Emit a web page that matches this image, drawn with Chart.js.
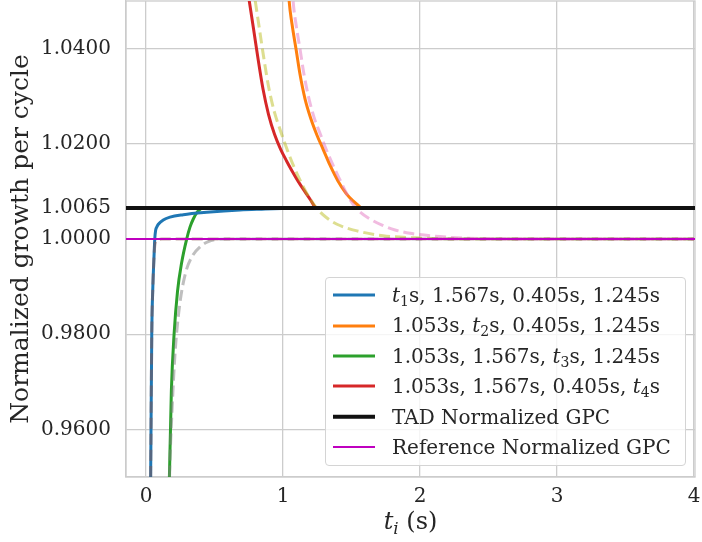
<!DOCTYPE html>
<html>
<head>
<meta charset="utf-8">
<script src="https://cdn.jsdelivr.net/npm/chart.js@4.4.1/dist/chart.umd.min.js"></script>
<style>
  html, body { margin: 0; padding: 0; background: #fff; }
  #wrap { position: relative; width: 702px; height: 542px; font-family: "DejaVu Serif", serif; color: #262626; }
  #gpc { display: block; }
  #legend { position: absolute; left: 325px; top: 277px; width: 361px; height: 189px; box-sizing: border-box;
            border: 1px solid #d4d4d4; border-radius: 4px; background: rgba(255,255,255,0.8); padding-top: 2px; }
  .row { position: relative; height: 30.4px; line-height: 30.4px; font-size: 20px; white-space: nowrap; }
  .swatch { position: absolute; left: 7px; width: 42px; top: 50%; transform: translateY(-50%); }
  .label { position: absolute; left: 66px; top: 0; }
  sub { font-size: 0.7em; line-height: 0; vertical-align: -0.3em; }
  #xtitle { position: absolute; left: 126px; width: 569px; top: 506px; text-align: center; font-size: 24px; line-height: 30px; }
</style>
</head>
<body>
<div id="wrap">
  <canvas id="gpc" width="702" height="542"></canvas>
  <div id="legend"></div>
  <div id="xtitle"><i>t</i><sub><i>i</i></sub> (s)</div>
</div>
<script>
(function () {
    "use strict";

    // axis limits and ticks
    var xMin = -0.146, xMax = 4.007;
    var yMin = 0.95, yMax = 1.05;
    var xTicks = [0, 1, 2, 3, 4];
    var yTicks = [0.96, 0.98, 1.0, 1.0065, 1.02, 1.04];

    var tadGpc = 1.0065;
    var refGpc = 1.0;

    // sweep of t1 (others fixed)
    var t1Times = [0.030, 0.034, 0.042, 0.050, 0.058, 0.064, 0.070, 0.080, 0.090, 0.126, 0.175, 0.272, 0.443, 0.686, 0.870, 1.053];
    var t1Gpc   = [0.9400, 0.9505, 0.9800, 0.9900, 0.9960, 1.0000, 1.0018, 1.0026, 1.0031, 1.0040, 1.0046, 1.0051, 1.0056, 1.0061, 1.0063, 1.0065];
    var t1RefTimes = [0.030, 0.034, 0.042, 0.050, 0.058, 0.066, 0.080, 0.115, 0.200, 0.500, 1.000, 2.000, 3.000, 4.000];
    var t1RefGpc   = [0.9400, 0.9505, 0.9800, 0.9900, 0.9960, 0.9990, 0.9997, 1.0000, 1.0000, 1.0000, 1.0000, 1.0000, 1.0000, 1.0000];

    // sweep of t2
    var t2Times = [1.026, 1.044, 1.066, 1.095, 1.124, 1.161, 1.204, 1.248, 1.292, 1.343, 1.401, 1.460, 1.511, 1.562, 1.567];
    var t2Gpc   = [1.0600, 1.0503, 1.0451, 1.0399, 1.0346, 1.0294, 1.0252, 1.0218, 1.0189, 1.0155, 1.0122, 1.0096, 1.0080, 1.0067, 1.0065];
    var t2RefTimes = [1.055, 1.073, 1.095, 1.124, 1.153, 1.190, 1.226, 1.270, 1.314, 1.365, 1.416, 1.467, 1.511, 1.562, 1.635, 1.723, 1.818, 1.927, 2.146, 2.438, 2.876, 4.000];
    var t2RefGpc   = [1.0600, 1.0503, 1.0451, 1.0399, 1.0346, 1.0294, 1.0256, 1.0222, 1.0189, 1.0155, 1.0124, 1.0094, 1.0073, 1.0057, 1.0042, 1.0029, 1.0019, 1.0012, 1.0005, 1.0001, 1.0000, 1.0000];

    // sweep of t3
    var t3Times = [0.165, 0.171, 0.185, 0.205, 0.230, 0.260, 0.297, 0.321, 0.345, 0.375, 0.405];
    var t3Gpc   = [0.9400, 0.9503, 0.9680, 0.9800, 0.9890, 0.9950, 1.0000, 1.0025, 1.0042, 1.0057, 1.0065];
    var t3RefTimes = [0.165, 0.172, 0.190, 0.212, 0.245, 0.290, 0.340, 0.400, 0.450, 0.520, 0.686, 1.000, 2.000, 3.000, 4.000];
    var t3RefGpc   = [0.9400, 0.9503, 0.9640, 0.9760, 0.9860, 0.9930, 0.9965, 0.9985, 0.9994, 0.9999, 1.0000, 1.0000, 1.0000, 1.0000, 1.0000];

    // sweep of t4
    var t4Times = [0.700, 0.752, 0.785, 0.818, 0.854, 0.894, 0.938, 0.982, 1.026, 1.066, 1.113, 1.161, 1.201, 1.234, 1.245];
    var t4Gpc   = [1.0600, 1.0503, 1.0441, 1.0378, 1.0315, 1.0262, 1.0220, 1.0189, 1.0164, 1.0143, 1.0120, 1.0099, 1.0082, 1.0067, 1.0065];
    var t4RefTimes = [0.745, 0.796, 0.828, 0.861, 0.898, 0.938, 0.982, 1.026, 1.069, 1.117, 1.164, 1.212, 1.263, 1.321, 1.394, 1.540, 1.730, 2.000, 2.365, 3.000, 4.000];
    var t4RefGpc   = [1.0600, 1.0503, 1.0441, 1.0378, 1.0315, 1.0266, 1.0227, 1.0191, 1.0159, 1.0128, 1.0101, 1.0078, 1.0059, 1.0044, 1.0031, 1.0017, 1.0007, 1.0002, 1.0000, 1.0000, 1.0000];

    var legendLabels = [
        '<i>t</i><sub>1</sub>s, 1.567s, 0.405s, 1.245s',
        '1.053s, <i>t</i><sub>2</sub>s, 0.405s, 1.245s',
        '1.053s, 1.567s, <i>t</i><sub>3</sub>s, 1.245s',
        '1.053s, 1.567s, 0.405s, <i>t</i><sub>4</sub>s',
        'TAD Normalized GPC',
        'Reference Normalized GPC'
    ];

    function pts(xs, ys) {
        return xs.map(function (x, i) { return {x: x, y: ys[i]}; });
    }

    function solid(xs, ys, color, label) {
        return {
            label: label, data: pts(xs, ys), borderColor: color, borderWidth: 3,
            pointRadius: 0, cubicInterpolationMode: 'monotone', clip: 0, order: 3, legend: true
        };
    }

    function dashed(xs, ys, color) {
        return {
            data: pts(xs, ys), borderColor: color, borderWidth: 3, borderDash: [11, 5],
            pointRadius: 0, cubicInterpolationMode: 'monotone', clip: 0, order: 2
        };
    }

    var datasets = [
        solid(t1Times, t1Gpc, '#1f77b4', legendLabels[0]),
        solid(t2Times, t2Gpc, '#ff7f0e', legendLabels[1]),
        solid(t3Times, t3Gpc, '#2ca02c', legendLabels[2]),
        solid(t4Times, t4Gpc, '#d62728', legendLabels[3]),
        dashed(t1RefTimes, t1RefGpc, 'rgba(140, 86, 75, 0.5)'),
        dashed(t2RefTimes, t2RefGpc, 'rgba(227, 119, 194, 0.5)'),
        dashed(t3RefTimes, t3RefGpc, 'rgba(127, 127, 127, 0.5)'),
        dashed(t4RefTimes, t4RefGpc, 'rgba(188, 189, 34, 0.5)'),
        {
            label: legendLabels[4], data: [{x: xMin, y: tadGpc}, {x: xMax, y: tadGpc}],
            borderColor: '#111111', borderWidth: 4, pointRadius: 0, clip: 0, order: 0, legend: true
        },
        {
            label: legendLabels[5], data: [{x: xMin, y: refGpc}, {x: xMax, y: refGpc}],
            borderColor: '#bf00bf', borderWidth: 2, pointRadius: 0, clip: 0, order: 1, legend: true
        }
    ];

    var frame = {
        id: 'frame',
        beforeDatasetsDraw: function (chart) {
            var a = chart.chartArea, ctx = chart.ctx;
            ctx.save();
            ctx.strokeStyle = '#cccccc';
            ctx.lineWidth = 1.3;
            ctx.strokeRect(a.left, a.top, a.right - a.left, a.bottom - a.top);
            ctx.restore();
        }
    };

    // no auto padding for overhanging tick labels, the layout is fixed
    function noPad(scale) {
        scale.paddingTop = 0;
        scale.paddingBottom = 0;
        scale.paddingLeft = 0;
        scale.paddingRight = 0;
    }

    Chart.defaults.font.family = '"DejaVu Serif", serif';
    Chart.defaults.color = '#262626';

    var ctx = document.getElementById('gpc').getContext('2d');
    var gpcChart = new Chart(ctx, {
        type: 'line',
        data: {datasets: datasets},
        options: {
            responsive: false,
            animation: false,
            layout: {padding: {top: 1, right: 7, left: 0, bottom: 0}},
            plugins: {legend: {display: false}, tooltip: {enabled: false}},
            scales: {
                x: {
                    type: 'linear', min: xMin, max: xMax,
                    afterBuildTicks: function (scale) {
                        scale.ticks = xTicks.map(function (v) { return {value: v}; });
                    },
                    afterFit: function (scale) { scale.height = 65; noPad(scale); },
                    ticks: {font: {size: 20}, padding: 8, maxRotation: 0},
                    grid: {color: '#cccccc', lineWidth: 1.3, drawTicks: false},
                    border: {color: '#cccccc', width: 1.3}
                },
                y: {
                    min: yMin, max: yMax,
                    afterBuildTicks: function (scale) {
                        scale.ticks = yTicks.map(function (v) { return {value: v}; });
                    },
                    afterFit: function (scale) { scale.width = 126; noPad(scale); },
                    ticks: {
                        font: {size: 20}, padding: 15,
                        callback: function (v) { return Number(v).toFixed(4); }
                    },
                    grid: {color: '#cccccc', lineWidth: 1.3, drawTicks: false},
                    border: {color: '#cccccc', width: 1.3},
                    title: {display: true, text: 'Normalized growth per cycle', font: {size: 25}, padding: {top: 6, bottom: 0}}
                }
            }
        },
        plugins: [frame]
    });

    // legend in HTML so the italic t and subscripts render like the original
    var legend = document.getElementById('legend');
    gpcChart.data.datasets.forEach(function (ds) {
        if (!ds.legend) return;
        var row = document.createElement('div');
        row.className = 'row';
        var sw = document.createElement('div');
        sw.className = 'swatch';
        sw.style.height = (ds.borderWidth === 4 ? 4.5 : ds.borderWidth) + 'px';
        sw.style.background = ds.borderColor;
        var lab = document.createElement('div');
        lab.className = 'label';
        lab.innerHTML = ds.label;
        row.appendChild(sw);
        row.appendChild(lab);
        legend.appendChild(row);
    });
})();
</script>
</body>
</html>
